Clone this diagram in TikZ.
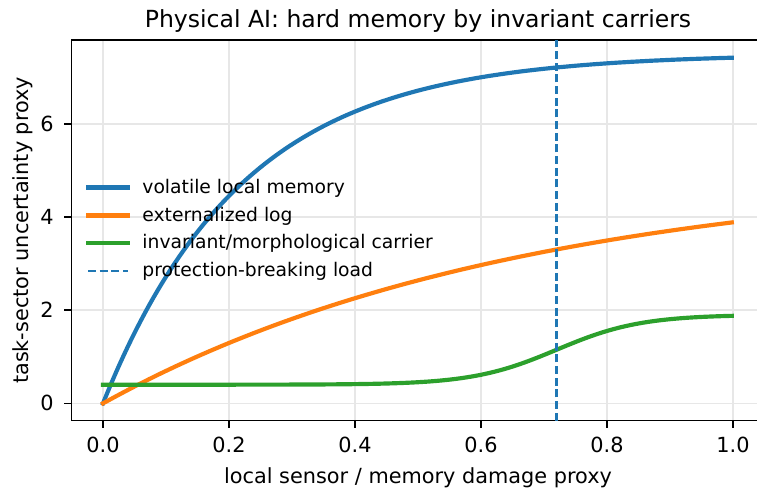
\documentclass[tikz,border=0pt]{standalone}
\usepackage{fontspec}
\setmainfont{DejaVu Sans}
\definecolor{tabblue}{HTML}{1F77B4}
\definecolor{taborange}{HTML}{FF7F0E}
\definecolor{tabgreen}{HTML}{2CA02C}
\definecolor{gridgray}{HTML}{E7E7E7}
\begin{document}
\begin{tikzpicture}[x=302.4pt, y=22.37pt,
    curve/.style = {line width=2pt, line cap=rect, line join=round},
    load/.style = {tabblue, line width=1.2pt, dash pattern=on 3.9pt off 1.7pt},
    gridline/.style = {gridgray, line width=0.8pt},
    spine/.style = {line width=0.8pt},
    ticklabel/.style = {font=\fontsize{10}{12}\selectfont, inner sep=0pt},
    entry/.style = {font=\fontsize{9}{11}\selectfont, inner sep=0pt, anchor=mid west}]
    \useasboundingbox (-0.1635,-1.8176) rectangle (1.0381,8.6545);
    \clip (-0.1635,-1.8176) rectangle (1.0381,8.6545);
    \foreach \xv in {0,0.2,0.4,0.6,0.8,1.0}
        \draw[gridline] (\xv,-0.371) -- (\xv,7.79);
    \foreach \yv in {0,2,4,6}
        \draw[gridline] (-0.05,\yv) -- (1.05,\yv);
    \draw[spine, line join=miter] (-0.05,-0.371) rectangle (1.05,7.79);
    \foreach \xv/\lab [count=\i] in {0/0.0,0.2/0.2,0.4/0.4,0.6/0.6,0.8/0.8,1.0/1.0} {
        \draw[spine] (\xv,-0.371) -- ++(0,-3.5pt);
        \node[ticklabel, anchor=base] (xtick\i) at (\xv,-1.056) {\lab};
    }
    \foreach \yv in {0,2,4,6} {
        \draw[spine] (-0.05,\yv) -- ++(-3.5pt,0);
        \node[ticklabel, anchor=east] (ytick\yv) at (-0.0778,\yv) {\yv};
    }
    \node[font=\fontsize{11.3}{13.5}\selectfont, anchor=base] (title) at (0.5,8.075) {Physical AI: hard memory by invariant carriers};
    \node[font=\fontsize{10}{12}\selectfont, anchor=base] (xlabel) at (0.5,-1.710) {local sensor / memory damage proxy};
    \node[font=\fontsize{10}{12}\selectfont, rotate=90, anchor=base] (ylabel) at (-0.119,3.71) {task-sector uncertainty proxy};
    \draw[curve, tabblue] plot[domain=0:1, samples=150] (\x, {7.5*(1-exp(-4.5*\x))});
    \draw[curve, taborange] plot[domain=0:1, samples=150] (\x, {5*(1-exp(-1.5*\x))});
    \draw[curve, tabgreen] plot[domain=0:1, samples=150] (\x, {0.4+1.5*exp(15*(\x-0.72))/(1+exp(15*(\x-0.72)))});
    \draw[load] (0.72,-0.371) -- (0.72,7.79);
    \coordinate (h1) at (-0.0238,4.631);
    \coordinate (h2) at (-0.0238,4.030);
    \coordinate (h3) at (-0.0238,3.440);
    \coordinate (h4) at (-0.0238,2.839);
    \draw[curve, tabblue] (h1) -- ++(0.0635,0) coordinate (e1);
    \draw[curve, taborange] (h2) -- ++(0.0635,0) coordinate (e2);
    \draw[curve, tabgreen] (h3) -- ++(0.0635,0) coordinate (e3);
    \draw[load] (h4) -- ++(0.0635,0) coordinate (e4);
    \node[entry] (volatile) at (0.0619,4.631) {volatile local memory};
    \node[entry] (extlog) at (0.0619,4.030) {externalized log};
    \node[entry] (carrier) at (0.0619,3.440) {invariant/morphological carrier};
    \node[entry] (loadtext) at (0.0619,2.839) {protection-breaking load};
\end{tikzpicture}
\end{document}
